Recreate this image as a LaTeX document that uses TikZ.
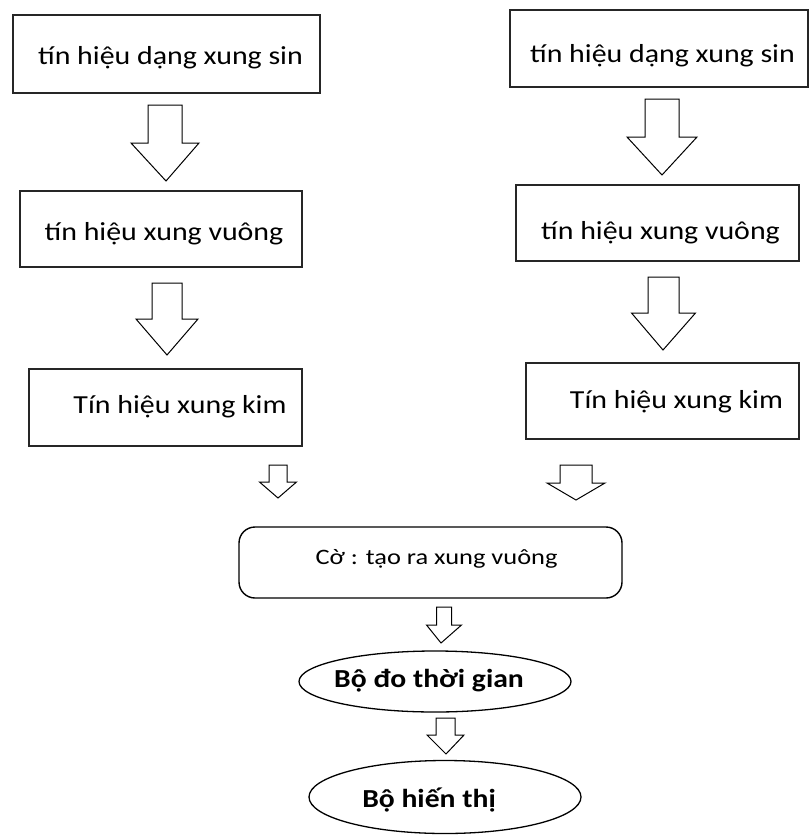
\documentclass[tikz,border=0pt]{standalone}
\usepackage{fontspec}
\usepackage{graphicx}
\setmainfont{Carlito}
\usetikzlibrary{shapes.geometric}
% horizontally widened text, as set in the original drawing
\newcommand{\widetext}[2][1.15]{\scalebox{#1}[1]{#2}}
\newcommand{\blockarrow}[7]{% x-centre, shaft top, shaft half-width, head y, head half-width, tip y, tip x
  \draw[arrowline] (#1-#3,#2) -- (#1+#3,#2) -- (#1+#3,#4) -- (#1+#5,#4)
    -- (#7,#6) -- (#1-#5,#4) -- (#1-#3,#4) -- cycle;}
\begin{document}
\begin{tikzpicture}[x=1pt,y=-1pt,
  boxline/.style={draw=black!85,line width=1.6pt,inner sep=0pt},
  arrowline/.style={draw=black,line width=1pt,fill=white,line join=miter},
  boxtext/.style={font=\fontsize{26}{30}\selectfont,inner sep=0pt,anchor=base},
  midtext/.style={font=\fontsize{22}{26}\selectfont,inner sep=0pt,anchor=base},
  ovaltext/.style={font=\fontsize{26}{30}\selectfont\bfseries,inner sep=0pt,anchor=base},
  oval/.style={ellipse,draw=black,line width=1.3pt,inner sep=0pt}]
\useasboundingbox (0,0) rectangle (809,835);

% left column boxes
\node[boxline,minimum width=307pt,minimum height=78pt] (L1) at (166.5,54) {};
\node[boxtext] (L1t) at (170.5,64) {\widetext{tín hiệu dạng xung sin}};
\node[boxline,minimum width=282pt,minimum height=76pt] (L2) at (161,229) {};
\node[boxtext] (L2t) at (164,240) {\widetext{tín hiệu xung vuông}};
\node[boxline,minimum width=273pt,minimum height=77pt] (L3) at (165.5,407.5) {};
\node[boxtext] (L3t) at (180,413) {\widetext{Tín hiệu xung kim}};

% right column boxes
\node[boxline,minimum width=298pt,minimum height=77pt] (R1) at (659,48.5) {};
\node[boxtext] (R1t) at (662.5,62) {\widetext{tín hiệu dạng xung sin}};
\node[boxline,minimum width=283pt,minimum height=76pt] (R2) at (657.5,223) {};
\node[boxtext] (R2t) at (660.5,239) {\widetext{tín hiệu xung vuông}};
\node[boxline,minimum width=273pt,minimum height=76pt] (R3) at (662.5,401) {};
\node[boxtext] (R3t) at (676.5,408) {\widetext{Tín hiệu xung kim}};

% flag block
\node[draw=black,line width=1.4pt,rounded corners=16pt,minimum width=383pt,minimum height=71pt,inner sep=0pt] (F) at (430.5,562.5) {};
\node[midtext] (Ft) at (436.5,564) {\widetext[1.2]{Cờ : tạo ra xung vuông}};

% timer and display
\node[oval,minimum width=272pt,minimum height=61pt] (T) at (435,681.5) {};
\node[ovaltext] (Tt) at (429,687) {\widetext[1.14]{Bộ đo thời gian}};
\node[oval,minimum width=272pt,minimum height=73pt] (D) at (445,797) {};
\node[ovaltext] (Dt) at (429,807) {\widetext[1.14]{Bộ hiến thị}};

% block arrows
\blockarrow{165}{105}{17}{143}{34}{181}{166}
\blockarrow{167}{283}{15}{319}{31}{355}{167}
\blockarrow{278}{465}{9}{482}{18.5}{498}{278}
\blockarrow{662}{99}{17}{137}{35}{175}{662}
\blockarrow{663.5}{277}{15.5}{313}{32}{350}{663}
\blockarrow{576}{465}{16}{483}{29}{500}{576}
\blockarrow{444}{607}{7.5}{625}{17.5}{643}{441}
\blockarrow{445.5}{718}{9.5}{735}{18.5}{754}{446}
\end{tikzpicture}
\end{document}
